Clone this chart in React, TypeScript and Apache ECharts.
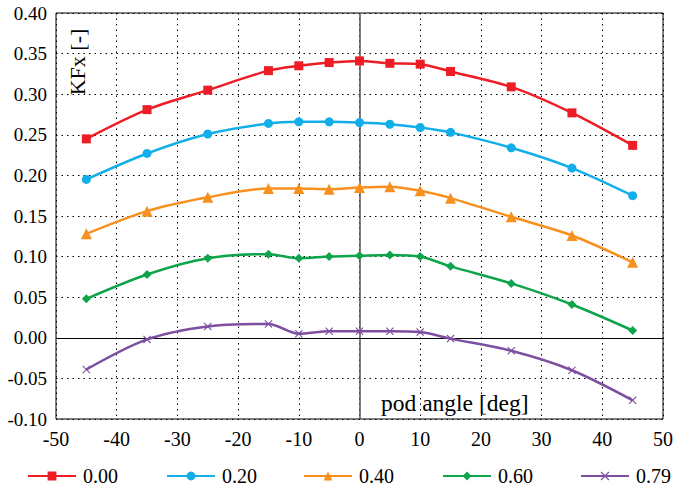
import React, { useEffect, useRef } from "react";
import * as echarts from "echarts";

const angles = [-45, -35, -25, -15, -10, -5, 0, 5, 10, 15, 25, 35, 45];
const seriesNames = ["0.00", "0.20", "0.40", "0.60", "0.79"];
const kfx000 = [0.245, 0.281, 0.305, 0.329, 0.335, 0.339, 0.341, 0.338, 0.337, 0.328, 0.309, 0.277, 0.237];
const kfx020 = [0.195, 0.227, 0.251, 0.264, 0.266, 0.266, 0.265, 0.263, 0.259, 0.253, 0.234, 0.209, 0.175];
const kfx040 = [0.128, 0.156, 0.173, 0.184, 0.184, 0.183, 0.185, 0.186, 0.181, 0.172, 0.149, 0.126, 0.093];
const kfx060 = [0.048, 0.078, 0.098, 0.103, 0.098, 0.1, 0.101, 0.102, 0.1, 0.088, 0.067, 0.041, 0.009];
const kfx079 = [-0.039, -0.002, 0.014, 0.017, 0.005, 0.008, 0.008, 0.008, 0.007, -0.001, -0.016, -0.04, -0.077];
const xTicks = { min: -50, max: 50, interval: 10 };
const yTicks = { min: -0.1, max: 0.4, interval: 0.05 };

const FONT = "Liberation Serif";

export default function App() {
  const ref = useRef<HTMLDivElement>(null);
  useEffect(() => {
    if (!ref.current) return;
    const chart = echarts.init(ref.current, undefined, { renderer: "svg" });
    const values = [kfx000, kfx020, kfx040, kfx060, kfx079];
    const colors = ["#ee1d25", "#12aeea", "#f7901e", "#0ea54a", "#7e4fa1"];
    const symbols = [
      "rect",
      "circle",
      "triangle",
      "diamond",
      "path://M0,1L1,0L5,4L9,0L10,1L6,5L10,9L9,10L5,6L1,10L0,9L4,5Z",
    ];
    const sizes = [9, 9, 11, 9, 8];
    const legendLefts = [22, 161, 298, 437, 575];
    const series: any[] = values.map((v, i) => ({
      name: seriesNames[i],
      type: "line",
      data: angles.map((a, j) => [a, v[j]]),
      smooth: 0.3,
      symbol: symbols[i],
      symbolSize: sizes[i],
      showAllSymbol: true,
      lineStyle: { color: colors[i], width: 2.5 },
      itemStyle: { color: colors[i] },
      z: 5,
    }));
    series[0].markLine = {
      silent: true,
      symbol: "none",
      label: { show: false },
      animation: false,
      data: [
        { xAxis: 0, lineStyle: { color: "#555", width: 1.5, type: "solid" } },
        { yAxis: 0, lineStyle: { color: "#000", width: 1, type: "solid" } },
      ],
    };
    chart.setOption({
      animation: false,
      backgroundColor: "#fff",
      color: colors,
      grid: {
        left: 56,
        right: 10,
        top: 13,
        bottom: 71,
        show: true,
        borderColor: "#000",
        borderWidth: 1,
        backgroundColor: "transparent",
      },
      xAxis: {
        type: "value",
        min: xTicks.min,
        max: xTicks.max,
        interval: xTicks.interval,
        axisLine: { show: false },
        axisTick: { show: false },
        axisLabel: { color: "#000", fontFamily: FONT, fontSize: 20, margin: 10 },
        splitLine: { show: true, lineStyle: { color: "#000", type: [1.5, 4], width: 1 } },
      },
      yAxis: {
        type: "value",
        min: yTicks.min,
        max: yTicks.max,
        interval: yTicks.interval,
        axisLine: { show: false },
        axisTick: { show: false },
        axisLabel: {
          color: "#000",
          fontFamily: FONT,
          fontSize: 19,
          margin: 9,
          formatter: (v: number) => v.toFixed(2),
        },
        splitLine: { show: true, lineStyle: { color: "#000", type: [1.5, 4], width: 1 } },
      },
      legend: seriesNames.map((n, i) => ({
        left: legendLefts[i],
        top: 461,
        itemWidth: 48,
        itemHeight: 11,
        lineStyle: { width: 2 },
        textStyle: { color: "#000", fontFamily: FONT, fontSize: 20, padding: [0, 0, 0, 2] },
        data: [n],
      })),
      graphic: [
        {
          type: "text",
          x: 77,
          y: 62,
          rotation: Math.PI / 2,
          style: {
            text: "KFx [-]",
            font: `22px ${FONT}`,
            fill: "#000",
            align: "center",
            verticalAlign: "middle",
          },
        },
        {
          type: "text",
          x: 381,
          y: 403,
          style: {
            text: "pod angle [deg]",
            font: `23.5px ${FONT}`,
            fill: "#000",
            align: "left",
            verticalAlign: "middle",
          },
        },
      ],
      series,
    });
    return () => chart.dispose();
  }, []);
  return (
    <div
      ref={ref}
      style={{ position: "fixed", left: 0, top: 0, width: 676, height: 490, background: "#fff" }}
    />
  );
}
